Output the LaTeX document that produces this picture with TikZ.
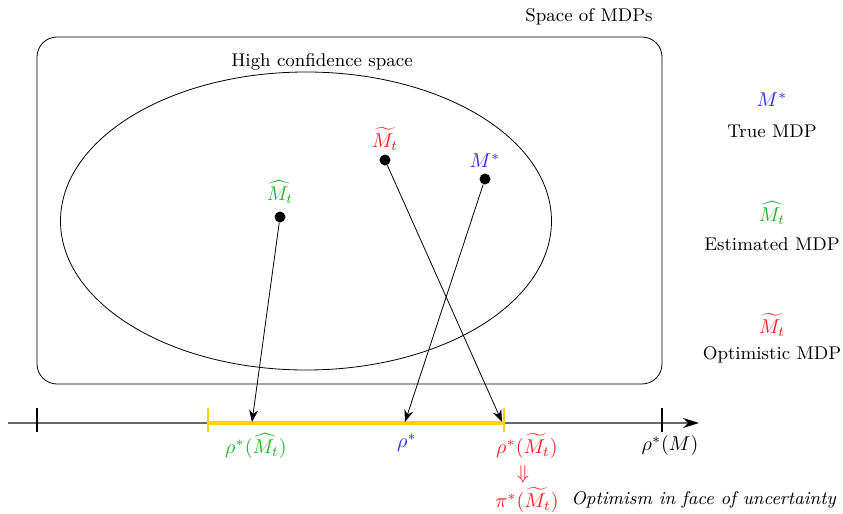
\documentclass[tikz,border=0pt]{standalone}
\usepackage{amssymb}
\usepackage{amsmath}
\usetikzlibrary{arrows.meta}

\definecolor{estgreen}{RGB}{40,175,40}
\definecolor{trublue}{RGB}{40,40,255}
\definecolor{optred}{RGB}{250,30,30}
\definecolor{goldbar}{RGB}{255,210,0}

\tikzset{
  mdpdot/.style={circle, fill=black, inner sep=0pt, minimum size=5.5pt},
  mapsto/.style={-{Stealth[length=6pt,width=4.5pt]}, thin},
  lbl/.style={inner sep=1pt},
  txt/.style={inner sep=1pt, font=\fontsize{9.2pt}{11pt}\selectfont}
}

\begin{document}
\begin{tikzpicture}[x=0.5pt, y=-0.5pt]
  \useasboundingbox (0,0) rectangle (843,514);
  % space of MDPs
  \draw[rounded corners=10pt] (37,37) rectangle (662,384);
  \node[txt] (space) at (589,17) {Space of MDPs};
  \draw (306,221) ellipse [x radius=245.5, y radius=149];
  \node[txt] (conf) at (322,62) {High confidence space};
  % the three models
  \node[mdpdot] (mhat) at (280,217) {};
  \node[lbl, text=estgreen] (mhatlbl) at (280,192) {$\widehat{M_t}$};
  \node[mdpdot] (mtil) at (385,160) {};
  \node[lbl, text=optred] (mtillbl) at (385,139) {$\widetilde{M_t}$};
  \node[mdpdot] (mstar) at (485,179) {};
  \node[lbl, text=trublue] (mstarlbl) at (485,161) {$M^*$};
  % gain axis
  \coordinate (axl) at (8,423);
  \coordinate (axr) at (699,423);
  \draw[black!60, line width=0.9pt, -{Stealth[length=8pt,width=5pt,color=black]}] (axl) -- (axr);
  \draw[line width=0.6pt] (37,408) -- (37,432);
  \draw[line width=0.6pt] (662,408) -- (662,432);
  \coordinate (lo) at (208,423);
  \coordinate (hi) at (504,423);
  \draw[goldbar, line width=2.2pt] (lo) -- (hi);
  \draw[goldbar, line width=1pt] (208,408) -- (208,432);
  \draw[goldbar, line width=1pt] (504,408) -- (504,432);
  \coordinate (rhohat) at (252,422);
  \coordinate (rhostar) at (405,422);
  \coordinate (rhotil) at (502,422);
  \draw[mapsto] (mhat) -- (rhohat);
  \draw[mapsto] (mstar) -- (rhostar);
  \draw[mapsto] (mtil) -- (rhotil);
  % labels under the axis
  \node[lbl, text=estgreen] (lhat) at (256,446) {$\rho^*(\widehat{M_t})$};
  \node[lbl, text=trublue] (lstar) at (407,443) {$\rho^*$};
  \node[lbl, text=optred] (ltil) at (527,446) {$\rho^*(\widetilde{M_t})$};
  \node[lbl] (lm) at (670,446) {$\rho^*(M)$};
  \node[lbl, text=optred] (imp) at (523,474) {$\Downarrow$};
  \node[lbl, text=optred] (pitil) at (527,500) {$\pi^*(\widetilde{M_t})$};
  \node[txt, anchor=west] (ofu) at (569,500) {\textit{Optimism in face of uncertainty}};
  % legend
  \node[lbl, text=trublue] (legstar) at (772,100) {$M^*$};
  \node[txt] (legstartxt) at (772,131) {True MDP};
  \node[lbl, text=estgreen] (leghat) at (772,213) {$\widehat{M_t}$};
  \node[txt] (leghattxt) at (772,244) {Estimated MDP};
  \node[lbl, text=optred] (legtil) at (772,325) {$\widetilde{M_t}$};
  \node[txt] (legtiltxt) at (772,355) {Optimistic MDP};
\end{tikzpicture}
\end{document}
